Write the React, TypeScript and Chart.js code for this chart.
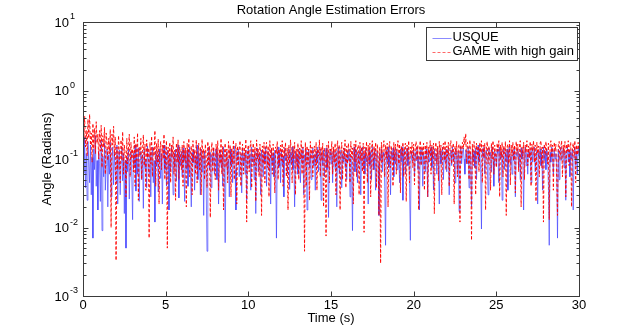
import React, { useEffect, useRef } from "react";
import { Chart, registerables } from "chart.js";

Chart.register(...registerables);

// ---------- text ----------
const chartTitle = "Rotation Angle Estimation Errors";
const xAxisLabel = "Time (s)";
const yAxisLabel = "Angle (Radians)";
const seriesNames = ["USQUE", "GAME with high gain"];

// ---------- axes ----------
const xTickValues = [0, 5, 10, 15, 20, 25, 30];
const yDecadeExponents = [-3, -2, -1, 0, 1];
const xMin = 0;
const xMax = 30;
const yMin = 0.001;
const yMax = 10;

// ---------- data (sample every 0.05 s, values in milliradians, one row per second) ----------
const sampleStepSeconds = 0.05;

const usqueMilliRad = [
  150, 62, 210, 38, 120, 25, 180, 90, 45, 160, 30, 105, 7, 140, 70, 220, 40, 95, 18, 130,
  85, 24, 190, 9, 110, 55, 170, 35, 80, 140, 20, 115, 60, 175, 28, 95, 150, 42, 125, 70,
  45, 160, 22, 100, 135, 30, 88, 150, 48, 120, 16, 95, 5, 110, 65, 140, 26, 90, 130, 55,
  13, 120, 75, 160, 34, 105, 60, 145, 24, 98, 130, 50, 115, 19, 140, 72, 100, 38, 155, 85,
  60, 125, 28, 110, 150, 45, 95, 12, 130, 78, 115, 33, 140, 90, 52, 120, 22, 105, 160, 70,
  110, 40, 135, 85, 18, 120, 65, 150, 95, 30, 125, 75, 140, 48, 100, 160, 27, 115, 80, 130,
  55, 145, 90, 24, 120, 70, 135, 40, 105, 150, 62, 20, 125, 88, 140, 35, 110, 75, 160, 50,
  120, 85, 30, 140, 65, 110, 15, 130, 95, 45, 4.5, 100, 150, 70, 125, 38, 115, 85, 145, 60,
  105, 140, 50, 120, 22, 95, 135, 75, 115, 40, 150, 85, 6, 110, 130, 60, 100, 28, 140, 80,
  125, 45, 110, 155, 70, 18, 130, 95, 140, 55, 105, 120, 32, 145, 80, 115, 60, 135, 25, 100,
  140, 75, 120, 35, 150, 90, 110, 50, 130, 16, 105, 145, 65, 120, 85, 30, 135, 100, 55, 125,
  90, 150, 40, 115, 130, 68, 105, 22, 140, 85, 120, 55, 135, 95, 7, 110, 150, 75, 125, 45,
  135, 80, 110, 28, 145, 95, 120, 60, 100, 140, 36, 125, 85, 150, 70, 115, 20, 130, 90, 110,
  60, 140, 105, 45, 125, 85, 150, 30, 115, 95, 135, 18, 110, 140, 75, 120, 50, 100, 145, 80,
  115, 35, 130, 90, 150, 65, 105, 140, 25, 120, 80, 135, 55, 110, 145, 70, 125, 14, 100, 140,
  85, 125, 45, 140, 100, 70, 130, 20, 115, 150, 60, 105, 135, 38, 120, 90, 145, 75, 110, 50,
  130, 95, 140, 28, 115, 80, 9, 125, 150, 65, 105, 135, 45, 120, 85, 140, 30, 110, 150, 70,
  120, 60, 145, 90, 110, 22, 135, 80, 125, 50, 150, 100, 70, 140, 35, 115, 130, 85, 15, 120,
  95, 140, 65, 125, 110, 40, 5.5, 135, 90, 150, 75, 115, 30, 130, 100, 145, 55, 120, 85, 140,
  70, 125, 105, 45, 140, 90, 150, 25, 115, 135, 60, 100, 145, 80, 120, 38, 6.5, 130, 95, 110,
  140, 55, 125, 95, 150, 70, 110, 18, 135, 85, 145, 40, 120, 100, 65, 140, 115, 28, 130, 90,
  110, 150, 75, 125, 35, 140, 95, 120, 60, 145, 105, 22, 130, 85, 115, 150, 50, 125, 90, 140,
  65, 120, 145, 30, 110, 135, 80, 150, 95, 125, 45, 140, 105, 70, 130, 17, 115, 150, 85, 120,
  145, 100, 60, 135, 120, 85, 150, 38, 125, 110, 20, 140, 95, 130, 75, 145, 50, 115, 160, 90,
  125, 70, 9.5, 140, 105, 150, 60, 120, 135, 85, 30, 145, 110, 125, 65, 150, 95, 40, 130, 115,
  80, 140, 120, 45, 150, 100, 130, 25, 115, 145, 70, 125, 90, 140, 35, 120, 155, 85, 110, 60,
  135, 95, 150, 28, 125, 110, 140, 75, 120, 50, 145, 100, 130, 18, 115, 150, 80, 125, 60, 140,
  105, 130, 45, 145, 90, 120, 150, 65, 110, 135, 22, 125, 100, 140, 80, 115, 35, 150, 95, 130,
  70, 140, 115, 40, 5.5, 125, 90, 150, 110, 60, 135, 100, 120, 85, 7, 140, 50, 125, 150, 95,
  120, 145, 75, 130, 25, 110, 150, 90, 135, 55, 125, 100, 140, 18, 115, 150, 80, 130, 60, 145,
  110,
];

const gameMilliRad = [
  300, 180, 420, 150, 260, 110, 380, 200, 450, 160, 240, 90, 330, 140, 280, 120, 350, 170, 230, 100,
  260, 130, 310, 75, 220, 150, 290, 60, 240, 180, 95, 200, 120, 270, 10, 230, 160, 300, 110, 210,
  3.3, 150, 70, 220, 110, 45, 190, 95, 250, 60, 160, 120, 28, 200, 85, 140, 230, 55, 175, 100,
  140, 65, 210, 40, 170, 95, 240, 25, 150, 110, 200, 50, 130, 225, 80, 165, 35, 190, 105, 145,
  7, 175, 85, 215, 55, 150, 110, 260, 40, 170, 90, 195, 22, 135, 180, 70, 160, 100, 230, 50,
  130, 185, 5, 150, 80, 175, 45, 160, 105, 210, 60, 135, 25, 170, 90, 190, 50, 150, 115, 70,
  160, 40, 180, 95, 145, 20, 170, 75, 200, 55, 120, 155, 30, 185, 90, 135, 60, 190, 45, 115,
  170, 70, 150, 30, 195, 100, 140, 50, 165, 110, 38, 180, 80, 155, 14, 125, 175, 65, 150, 95,
  50, 165, 105, 185, 35, 140, 85, 200, 60, 155, 18, 120, 170, 75, 140, 45, 180, 100, 160, 28,
  145, 85, 190, 50, 125, 170, 22, 155, 80, 140, 185, 40, 120, 165, 60, 150, 95, 195, 12, 130,
  160, 65, 145, 185, 38, 125, 170, 80, 150, 24, 190, 100, 140, 55, 165, 115, 15, 155, 85, 175,
  45, 140, 175, 75, 155, 28, 185, 100, 145, 60, 165, 90, 32, 150, 120, 180, 50, 140, 80, 160,
  95, 185, 40, 150, 110, 175, 55, 145, 18, 160, 85, 190, 120, 45, 155, 100, 175, 30, 140, 75,
  170, 50, 145, 100, 185, 60, 150, 90, 4.5, 175, 40, 155, 85, 140, 25, 180, 100, 150, 55, 130,
  155, 80, 175, 35, 140, 110, 190, 55, 150, 95, 170, 20, 145, 115, 7.5, 160, 75, 180, 45, 140,
  115, 180, 60, 150, 90, 170, 30, 140, 185, 75, 160, 18, 130, 175, 50, 145, 100, 190, 38, 155,
  85, 170, 120, 45, 180, 105, 145, 22, 165, 90, 185, 55, 140, 160, 30, 175, 95, 150, 65, 170,
  8.5, 150, 105, 180, 45, 160, 85, 170, 28, 140, 185, 70, 155, 100, 175, 38, 165, 115, 15, 150,
  3, 175, 90, 150, 185, 55, 160, 105, 170, 20, 140, 180, 75, 155, 115, 40, 175, 95, 165, 60,
  145, 185, 85, 165, 32, 155, 110, 175, 55, 140, 170, 24, 160, 100, 185, 45, 150, 115, 175, 75,
  165, 42, 150, 180, 95, 160, 18, 140, 185, 80, 155, 110, 170, 35, 160, 90, 175, 28, 150, 115,
  185, 60, 160, 105, 170, 16, 150, 175, 85, 155, 48, 180, 115, 160, 30, 145, 170, 95, 185, 70,
  155, 110, 175, 40, 160, 185, 85, 145, 170, 22, 155, 115, 180, 55, 150, 165, 12, 160, 105, 175,
  140, 210, 160, 235, 85, 175, 145, 50, 190, 105, 6.5, 165, 80, 180, 150, 30, 170, 110, 155, 65,
  175, 125, 185, 45, 160, 105, 170, 18, 150, 180, 85, 155, 115, 35, 170, 100, 185, 60, 160, 120,
  75, 170, 130, 185, 28, 160, 105, 175, 55, 155, 120, 180, 15, 150, 165, 85, 185, 42, 160, 110,
  175, 95, 160, 32, 180, 125, 165, 65, 155, 185, 20, 150, 110, 175, 50, 160, 125, 185, 80, 155,
  105, 180, 40, 165, 130, 185, 90, 160, 24, 175, 120, 155, 55, 170, 185, 75, 150, 12, 165, 115,
  180, 125, 85, 170, 13, 155, 185, 105, 160, 35, 175, 130, 165, 50, 15, 160, 180, 95, 145, 185,
  55, 160, 115, 180, 28, 165, 130, 185, 80, 155, 175, 20, 145, 170, 105, 185, 45, 160, 115, 175,
  120,
];

// ---------- styles ----------
const FONT = '"Liberation Sans", Arial, Helvetica, sans-serif';
const BLUE = "rgb(60,60,255)";
const RED = "rgb(255,0,0)";
const RED_DASH = [3, 2];
const AXIS_COLOR = "#3a3a3a";

const toPoints = (arr: number[]) =>
  arr.map((v, i) => ({ x: i * sampleStepSeconds, y: v / 1000 }));

const matlabDecor = {
  id: "matlabDecor",
  afterDraw(chart: any) {
    const { ctx, chartArea: a, scales } = chart;
    const xs = scales.x;
    const ys = scales.y;
    const L = Math.round(a.left) + 0.5;
    const R = Math.round(a.right) + 0.5;
    const T = Math.round(a.top) + 0.5;
    const B = Math.round(a.bottom) + 0.5;
    ctx.save();

    // box
    ctx.strokeStyle = AXIS_COLOR;
    ctx.lineWidth = 1;
    ctx.setLineDash([]);
    ctx.strokeRect(L, T, R - L, B - T);

    // ticks
    ctx.beginPath();
    for (const t of xTickValues) {
      const px = Math.round(xs.getPixelForValue(t)) + 0.5;
      ctx.moveTo(px, B);
      ctx.lineTo(px, B - 5);
      ctx.moveTo(px, T);
      ctx.lineTo(px, T + 5);
    }
    for (const d of yDecadeExponents) {
      for (let m = 1; m <= 9; m++) {
        if (d === yDecadeExponents[yDecadeExponents.length - 1] && m > 1) break;
        const py = Math.round(ys.getPixelForValue(m * Math.pow(10, d))) + 0.5;
        const len = m === 1 ? 5 : 3;
        ctx.moveTo(L, py);
        ctx.lineTo(L + len, py);
        ctx.moveTo(R, py);
        ctx.lineTo(R - len, py);
      }
    }
    ctx.stroke();

    // text
    ctx.fillStyle = "#000";
    ctx.font = `13px ${FONT}`;
    ctx.textAlign = "center";
    ctx.textBaseline = "middle";
    ctx.fillText(chartTitle, (a.left + a.right) / 2, 10);
    ctx.fillText(xAxisLabel, (a.left + a.right) / 2, 318);
    for (const t of xTickValues) {
      ctx.fillText(String(t), xs.getPixelForValue(t), 305);
    }
    ctx.save();
    ctx.translate(47, (a.top + a.bottom) / 2);
    ctx.rotate(-Math.PI / 2);
    ctx.fillText(yAxisLabel, 0, 0);
    ctx.restore();

    for (const d of yDecadeExponents) {
      const py = ys.getPixelForValue(Math.pow(10, d));
      ctx.font = `13px ${FONT}`;
      ctx.textAlign = "right";
      ctx.fillText("10", 69, py + 1);
      ctx.font = `9px ${FONT}`;
      ctx.textAlign = "left";
      ctx.fillText(String(d), 70, py - 5);
    }

    // legend
    ctx.font = `13px ${FONT}`;
    const textW = Math.max(...seriesNames.map((s) => ctx.measureText(s).width));
    const boxRight = Math.round(a.right) - 1.5;
    const boxLeft = Math.round(boxRight - (6 + 19 + 1 + textW + 4)) + 0.5;
    const boxTop = T + 5;
    const boxH = 33;
    ctx.fillStyle = "#fff";
    ctx.fillRect(boxLeft, boxTop, boxRight - boxLeft, boxH);
    ctx.strokeStyle = AXIS_COLOR;
    ctx.lineWidth = 1;
    ctx.strokeRect(boxLeft, boxTop, boxRight - boxLeft, boxH);
    const rows = [boxTop + 10, boxTop + 24];
    const styles = [
      { color: BLUE, dash: [] as number[] },
      { color: RED, dash: RED_DASH },
    ];
    seriesNames.forEach((name, i) => {
      const y = Math.round(rows[i]) + 0.5;
      ctx.strokeStyle = styles[i].color;
      ctx.lineWidth = 0.6;
      ctx.setLineDash(styles[i].dash);
      ctx.beginPath();
      ctx.moveTo(boxLeft + 6, y);
      ctx.lineTo(boxLeft + 25, y);
      ctx.stroke();
      ctx.setLineDash([]);
      ctx.fillStyle = "#000";
      ctx.textAlign = "left";
      ctx.fillText(name, boxLeft + 26, rows[i]);
    });

    ctx.restore();
  },
};

export default function App() {
  const canvasRef = useRef<HTMLCanvasElement | null>(null);

  useEffect(() => {
    if (!canvasRef.current) return;
    const chart = new Chart(canvasRef.current, {
      type: "line",
      data: {
        datasets: [
          {
            label: seriesNames[0],
            data: toPoints(usqueMilliRad),
            borderColor: BLUE,
            borderWidth: 0.65,
            pointRadius: 0,
            tension: 0,
            fill: false,
            borderJoinStyle: "round",
            order: 1,
          },
          {
            label: seriesNames[1],
            data: toPoints(gameMilliRad),
            borderColor: RED,
            borderWidth: 0.9,
            borderDash: RED_DASH,
            pointRadius: 0,
            tension: 0,
            fill: false,
            borderJoinStyle: "round",
            order: 0,
          },
        ],
      },
      options: {
        responsive: false,
        animation: false,
        devicePixelRatio: 1,
        layout: { padding: { left: 83, right: 61, top: 22, bottom: 34 } },
        scales: {
          x: { type: "linear", min: xMin, max: xMax, display: false },
          y: { type: "logarithmic", min: yMin, max: yMax, display: false },
        },
        plugins: {
          legend: { display: false },
          tooltip: { enabled: false },
          title: { display: false },
        },
        events: [],
      },
      plugins: [matlabDecor],
    });
    return () => chart.destroy();
  }, []);

  return (
    <div style={{ position: "fixed", left: 0, top: 0, width: 640, height: 330, background: "#fff" }}>
      <canvas ref={canvasRef} width={640} height={330} />
    </div>
  );
}
